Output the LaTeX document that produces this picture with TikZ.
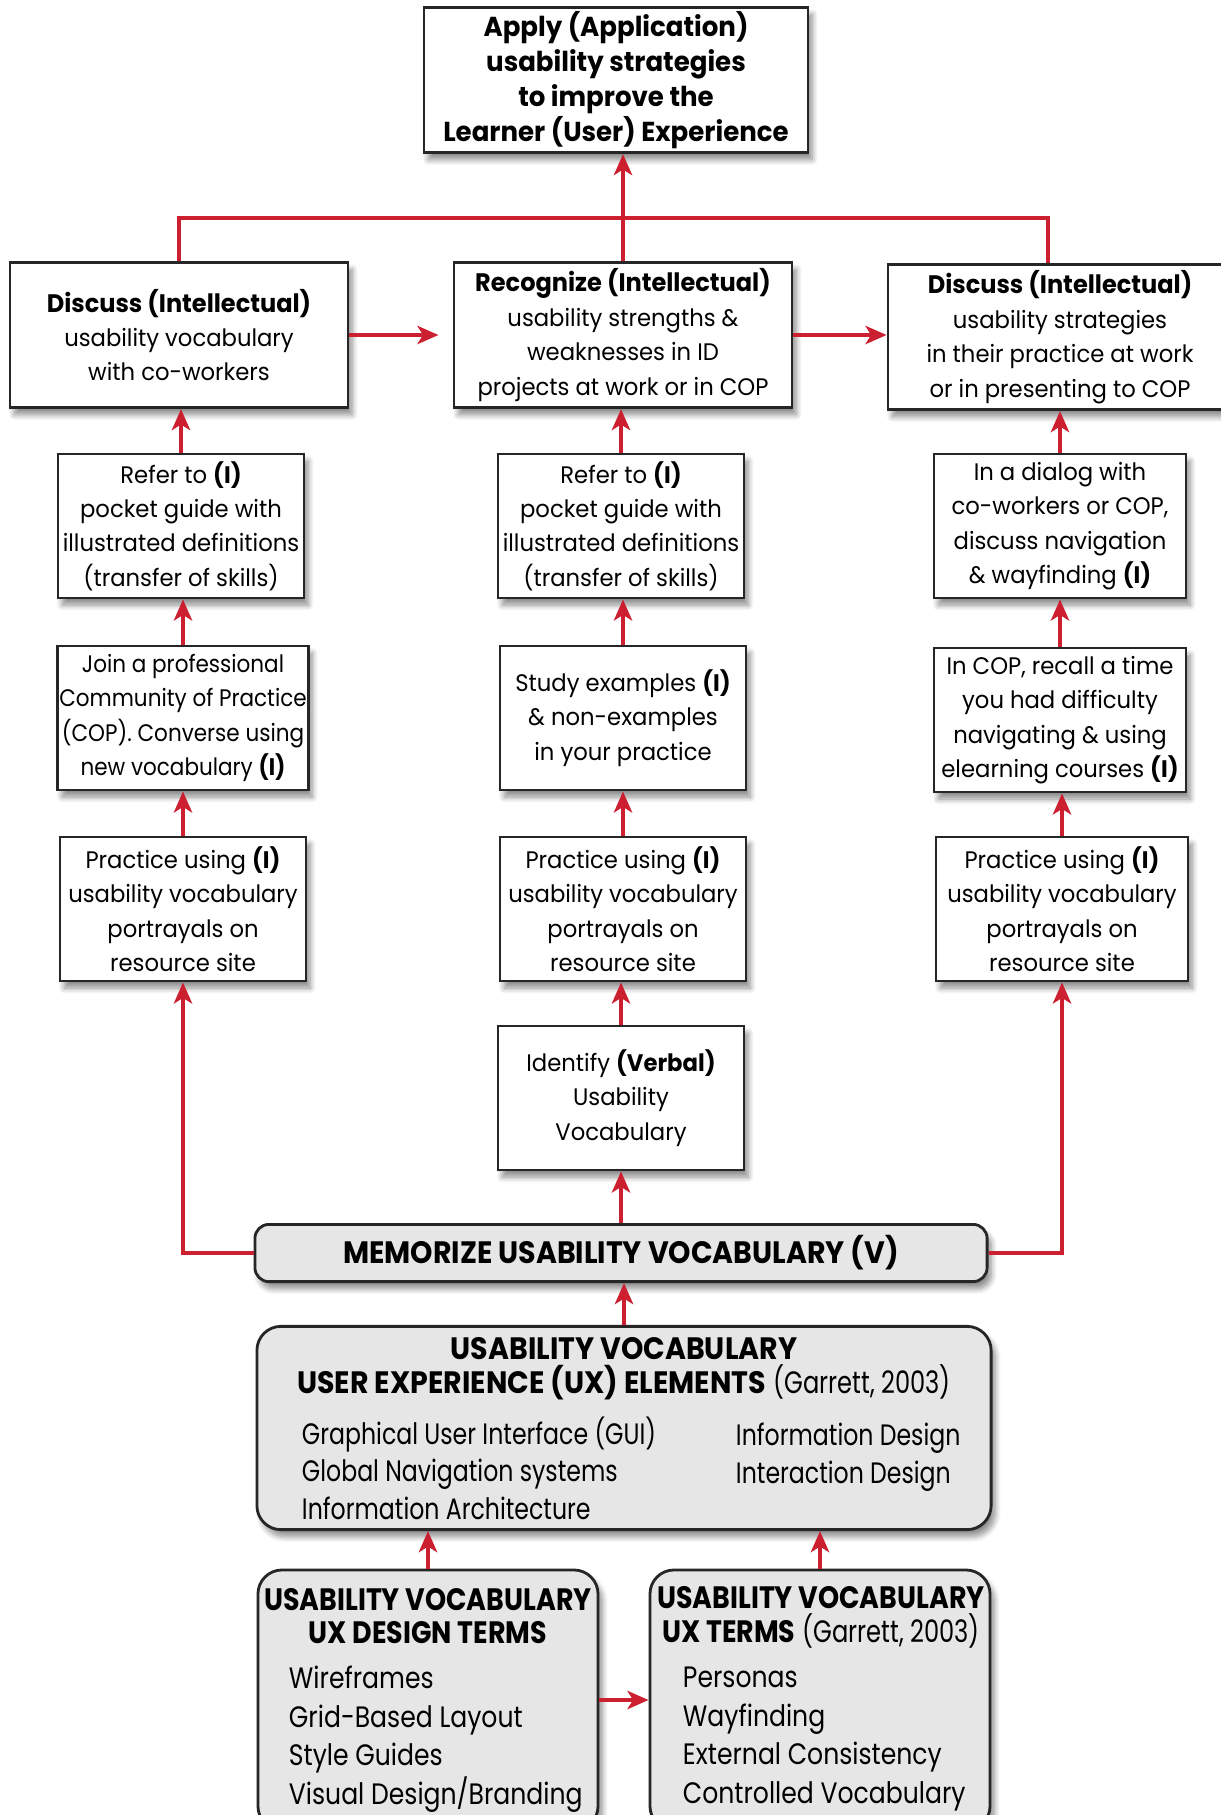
\documentclass[tikz,border=0pt]{standalone}
\usepackage{fontspec}
\setmainfont{Poppins}[FakeStretch=0.95]
\newfontfamily\tightfont{Poppins}[FakeStretch=0.9]
\newfontfamily\headfont{Poppins}[FakeStretch=0.92]
\newfontfamily\narrowfont{Poppins}[FakeStretch=0.87]
\newfontfamily\condfont{Poppins}[FakeStretch=0.78]
\newfontfamily\itemfont{Poppins}[FakeStretch=0.8]
\newfontfamily\listfont{Poppins}[FakeStretch=0.85]
\newcommand{\lead}[1]{{\fontsize{18}{24.5}\selectfont\bfseries #1}}
\usetikzlibrary{arrows.meta, positioning, shadows.blur}
\definecolor{linkred}{RGB}{204,32,48}
\definecolor{boxgray}{RGB}{230,230,230}

\begin{document}
\begin{tikzpicture}[x=0.025cm, y=-0.025cm,
  shade/.style={blur shadow={shadow xshift=3pt, shadow yshift=-5pt, shadow blur steps=8, shadow blur radius=4pt, shadow opacity=45}},
  stepbox/.style={draw=black!85, line width=2pt, fill=white, align=center, inner sep=1pt, shade, font=\fontsize{17}{24.5}\selectfont},
  topbox/.style={stepbox, minimum width=9.6cm, minimum height=3.63cm, font=\fontsize{19.5}{25}\selectfont\bfseries},
  bigbox/.style={stepbox, minimum width=8.45cm, minimum height=3.63cm},
  smallbox/.style={stepbox, minimum width=6.15cm, minimum height=3.6cm},
  graybox/.style={draw=black!85, line width=2pt, fill=boxgray, shade},
  memobox/.style={graybox, rounded corners=0.35cm, minimum width=18.3cm, minimum height=1.43cm, font=\headfont\fontsize{22}{26}\selectfont\bfseries},
  head/.style={align=center, font=\headfont\fontsize{22}{24}\selectfont},
  items/.style={align=left, anchor=west, font=\itemfont\fontsize{21}{26.6}\selectfont},
  link/.style={draw=linkred, line width=3.3pt},
  arr/.style={link, -{Stealth[length=15pt, width=13pt, inset=4pt]}},
]

\useasboundingbox (0,0) rectangle (1221,1815);

% Goal
\node[topbox] (apply) at (616,80) {Apply (Application)\\usability strategies\\to improve the\\Learner (User) Experience};

% Intellectual level
\node[bigbox] (discL) at (179,335) {\lead{Discuss (Intellectual)}\\usability vocabulary\\with co-workers};
\node[bigbox] (recog) at (623,335) {\lead{Recognize (Intellectual)}\\usability strengths \&\\weaknesses in ID\\projects at work or in COP};
\node[bigbox, minimum width=8.6cm] (discR) at (1060,337) {\lead{Discuss (Intellectual)}\\usability strategies\\in their practice at work\\or in presenting to COP};

% Left column
\node[smallbox] (r2L) at (181,526) {Refer to \textbf{(I)}\\pocket guide with\\illustrated definitions\\(transfer of skills)};
\node[smallbox, font=\tightfont\fontsize{17}{24.5}\selectfont] (r3L) at (183,718) {Join a professional\\Community of Practice\\(COP). Converse using\\new vocabulary \textbf{(I)}};
\node[smallbox] (r4L) at (183,909) {Practice using \textbf{(I)}\\usability vocabulary\\portrayals on\\resource site};

% Middle column
\node[smallbox] (r2M) at (621,526) {Refer to \textbf{(I)}\\pocket guide with\\illustrated definitions\\(transfer of skills)};
\node[smallbox] (r3M) at (623,718) {Study examples \textbf{(I)}\\\& non-examples\\in your practice};
\node[smallbox] (r4M) at (623,909) {Practice using \textbf{(I)}\\usability vocabulary\\portrayals on\\resource site};
\node[smallbox] (ident) at (621,1098) {Identify \textbf{(Verbal)}\\Usability\\Vocabulary};

% Right column
\node[smallbox, minimum width=6.3cm] (r2R) at (1060,526) {In a dialog with\\co-workers or COP,\\discuss navigation\\\& wayfinding \textbf{(I)}};
\node[smallbox, minimum width=6.3cm] (r3R) at (1060,720) {In COP, recall a time\\you had difficulty\\navigating \& using\\elearning courses \textbf{(I)}};
\node[smallbox, minimum width=6.3cm] (r4R) at (1062,909) {Practice using \textbf{(I)}\\usability vocabulary\\portrayals on\\resource site};

% Verbal level
\node[memobox] (memo) at (621,1253) {MEMORIZE USABILITY VOCABULARY (V)};

\node[graybox, rounded corners=0.6cm, minimum width=18.35cm, minimum height=5.08cm] (uxel) at (624,1428) {};
\node[head] (uxelhead) at (624,1369) {\textbf{USABILITY VOCABULARY}\\\textbf{USER EXPERIENCE (UX) ELEMENTS} {\condfont (Garrett, 2003)}};
\node[items] (uxelA) at (297,1468) {Graphical User Interface (GUI)\\Global Navigation systems\\Information Architecture};
\node[items] (uxelB) at (731,1457) {Information Design\\Interaction Design};

\node[graybox, rounded corners=0.6cm, minimum width=8.5cm, minimum height=6.5cm] (design) at (428,1700) {};
\node[head, font=\narrowfont\fontsize{22}{24}\selectfont] (designhead) at (428,1616) {\textbf{USABILITY VOCABULARY}\\\textbf{UX DESIGN TERMS}};
\node[items, font=\listfont\fontsize{21}{27.4}\selectfont] (designlist) at (284,1739) {Wireframes\\Grid-Based Layout\\Style Guides\\Visual Design/Branding};

\node[graybox, rounded corners=0.6cm, minimum width=8.5cm, minimum height=6.5cm] (terms) at (820,1700) {};
\node[head, font=\narrowfont\fontsize{22}{24}\selectfont] (termshead) at (821,1617) {\textbf{USABILITY VOCABULARY}\\\textbf{UX TERMS} {\condfont (Garrett, 2003)}};
\node[items, font=\listfont\fontsize{21}{27.4}\selectfont] (termslist) at (678,1739) {Personas\\Wayfinding\\External Consistency\\Controlled Vocabulary};

% Connectors
\coordinate (rjoin) at (1048,218);
\draw[link] (discL.north) |- (rjoin) -- (rjoin |- discR.north);
\draw[arr] (recog.north) -- (recog.north |- apply.south);
\draw[arr, shorten >=10pt] (discL.east) -- (recog.west);
\draw[arr] (recog.east) -- (recog.east -| discR.west);

\draw[arr] (r2L.north) -- (r2L.north |- discL.south);
\draw[arr] (r3L.north) -- (r3L.north |- r2L.south);
\draw[arr] (r4L.north) -- (r4L.north |- r3L.south);
\draw[arr] (r2M.north) -- (r2M.north |- recog.south);
\draw[arr] (r3M.north) -- (r3M.north |- r2M.south);
\draw[arr] (r4M.north) -- (r4M.north |- r3M.south);
\draw[arr] (ident.north) -- (ident.north |- r4M.south);
\draw[arr] (r2R.north) -- (r2R.north |- discR.south);
\draw[arr] (r3R.north) -- (r3R.north |- r2R.south);
\draw[arr] (r4R.north) -- (r4R.north |- r3R.south);

\draw[arr] (memo.west) -| (r4L.south);
\draw[arr] (memo.east) -| (r4R.south);
\draw[arr] (memo.north) -- (memo.north |- ident.south);
\draw[arr] (uxel.north) -- (uxel.north |- memo.south);
\draw[arr] (design.north) -- (design.north |- uxel.south);
\draw[arr] (terms.north) -- (terms.north |- uxel.south);
\draw[arr] (design.east) -- (terms.west);

\end{tikzpicture}
\end{document}
